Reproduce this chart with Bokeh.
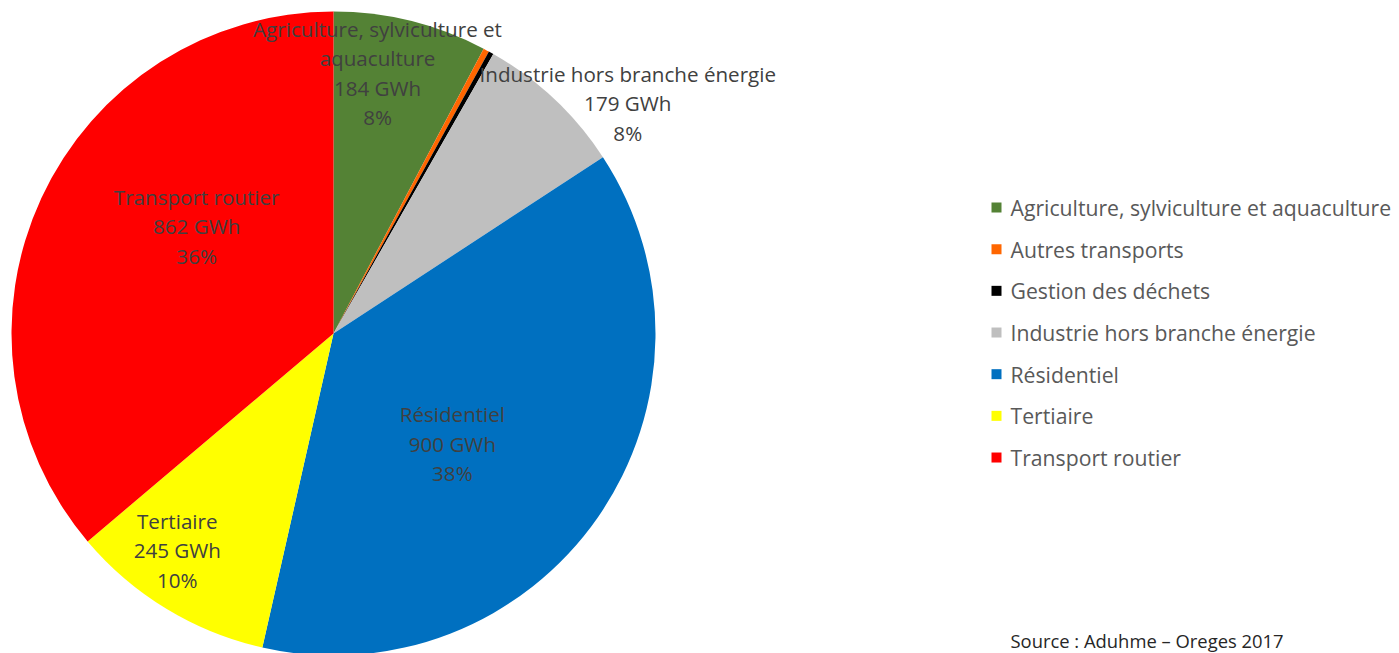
import math
from bokeh.plotting import figure
from bokeh.models import Range1d, ColumnDataSource
from bokeh.core.properties import value
from bokeh.embed import file_html
from bokeh.resources import INLINE

# ---- data ----
categories = ["Agriculture, sylviculture et aquaculture", "Autres transports",
              "Gestion des déchets", "Industrie hors branche énergie",
              "Résidentiel", "Tertiaire", "Transport routier"]
values_gwh = [184, 7, 6, 179, 900, 245, 862]
colors = ["#548235", "#FF6600", "#000000", "#BFBFBF", "#0070C0", "#FFFF00", "#FF0000"]
source_note = "Source : Aduhme – Oreges 2017"

# ---- layout (page pixel space, y up) ----
W, H = 1399, 653
FONT = "Open Sans"
cx, cy, R = 333, H - 333, 322
# label placement: (radius fraction, angle shift deg) per slice, None = no label
label_place = [(0.82, -4.3), None, None, (1.16, 8.7), (0.503, 8.0), (0.83, 4.5), (0.54, 13.2)]
label_wrap = {0: ["Agriculture, sylviculture et", "aquaculture"]}
LH = 29.5

p = figure(width=W, height=H, output_backend="svg", toolbar_location=None,
           x_range=Range1d(0, W), y_range=Range1d(0, H),
           min_border=0, outline_line_color=None)
p.axis.visible = False
p.grid.visible = False
p.background_fill_color = "white"
p.border_fill_color = "white"

total = sum(values_gwh)
starts, ends, mids = [], [], []
c = 0.0
for v in values_gwh:
    f0 = c / total
    c += v
    f1 = c / total
    starts.append(math.pi / 2 - f0 * 2 * math.pi)
    ends.append(math.pi / 2 - f1 * 2 * math.pi)
    mids.append((f0 + f1) / 2 * 360.0)

src = ColumnDataSource(dict(x=[cx] * len(values_gwh), y=[cy] * len(values_gwh),
                            s=starts, e=ends, color=colors))
p.wedge(x="x", y="y", radius=R, radius_units="data", start_angle="s", end_angle="e",
        direction="clock", fill_color="color", line_color=None, source=src)

# data labels
lx, ly, lt = [], [], []
for i, name in enumerate(categories):
    if label_place[i] is None:
        continue
    rf, sh = label_place[i]
    ang = math.radians(mids[i] + sh)
    x0 = cx + rf * R * math.sin(ang)
    y0 = cy + rf * R * math.cos(ang)
    lines = list(label_wrap.get(i, [name]))
    lines.append(f"{values_gwh[i]} GWh")
    lines.append(f"{round(values_gwh[i] / total * 100)}%")
    n = len(lines)
    for k, t in enumerate(lines):
        lx.append(x0)
        ly.append(y0 + ((n - 1) / 2 - k) * LH)
        lt.append(t)
p.text(x=lx, y=ly, text=lt, text_font=value(FONT), text_font_size="20.6px",
       text_color="#404040", text_align="center", text_baseline="middle")

# legend
leg_x, leg_y0, leg_dy = 996, H - 207, 41.67
ly2 = [leg_y0 - i * leg_dy for i in range(len(categories))]
p.rect(x=[leg_x] * len(categories), y=ly2, width=10, height=10, fill_color=colors, line_color=None)
p.text(x=[leg_x + 14] * len(categories), y=ly2, text=categories, text_font=value(FONT),
       text_font_size="21.2px", text_color="#595959", text_align="left", text_baseline="middle")

# source
p.text(x=[1010], y=[H - 640], text=[source_note], text_font=value(FONT),
       text_font_size="18.4px", text_color="#262626", text_align="left", text_baseline="middle")

open("out.html", "w").write(file_html(p, INLINE))
